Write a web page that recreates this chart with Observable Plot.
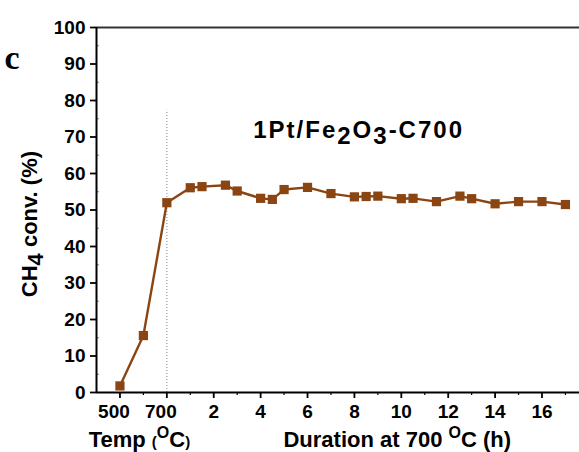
<!DOCTYPE html>
<html>
<head>
<meta charset="utf-8">
<script src="https://cdn.jsdelivr.net/npm/d3@7"></script>
<script src="https://cdn.jsdelivr.net/npm/@observablehq/plot@0.6"></script>
<style>
  html, body { margin: 0; padding: 0; background: #fff; }
  #chart svg { display: block; }
</style>
</head>
<body>
<div id="chart"></div>
<script>
// ---- data ----
const tempC = [500, 600, 700];
const tempConv = [1.8, 15.6, 52.0];
const hours = [1, 1.5, 2.5, 3, 4, 4.5, 5, 6, 7, 8, 8.5, 9, 10, 10.5, 11.5, 12.5, 13, 14, 15, 16, 17];
const hourConv = [56.1, 56.4, 56.8, 55.2, 53.2, 52.9, 55.6, 56.2, 54.5, 53.6, 53.7, 53.8, 53.1, 53.2, 52.3, 53.8, 53.1, 51.7, 52.3, 52.3, 51.5];
const tempTicks = [500, 700];
const hourTicks = [2, 4, 6, 8, 10, 12, 14, 16];
const yTicks = [0, 10, 20, 30, 40, 50, 60, 70, 80, 90, 100];
const yMinor = [5, 15, 25, 35, 45, 55, 65, 75, 85, 95];
const sampleName = "1Pt/Fe2O3-C700";
const dottedTop = 77.3;

// combined position: temperature segment mapped before 0 h (700 °C == 0 h)
const tPos = t => (t - 700) / 100;
const data = [
  ...tempC.map((t, i) => ({pos: tPos(t), conv: tempConv[i]})),
  ...hours.map((h, i) => ({pos: h, conv: hourConv[i]}))
];
const xMajor = [...tempTicks.map(tPos), ...hourTicks];
const xMinor = [-1, 1, 3, 5, 7, 9, 11, 13, 15, 17];
const color = "#8B4513";
const font = "'Liberation Sans', Arial, sans-serif";

const chart = Plot.plot({
  width: 579,
  height: 452,
  marginLeft: 96,
  marginRight: 0,
  marginTop: 27,
  marginBottom: 60,
  x: {domain: [-3, 17.6]},
  y: {domain: [0, 100]},
  style: {fontFamily: font, fontWeight: "bold", fontSize: "19px", color: "#000", background: "#fff"},
  marks: [
    // frame lines
    Plot.ruleY([100], {stroke: "#333", strokeWidth: 2}),
    // y axis
    Plot.axisY(yTicks, {tickSize: 6, tickPadding: 5, strokeWidth: 1.8, fontSize: 19, fontWeight: "bold", label: null}),
    Plot.axisY(yMinor, {tickSize: -3, text: null, strokeWidth: 1, stroke: "#888", label: null}),
    // x axis ticks
    Plot.axisX(xMajor, {tickSize: 6, text: null, strokeWidth: 1.8, label: null}),
    Plot.axisX(xMinor, {tickSize: 3, text: null, strokeWidth: 1.2, label: null}),
    // x tick labels
    Plot.axisX(tempTicks.map(tPos), {tickSize: 0, tickPadding: 12, dx: -6, tickFormat: d => String(d * 100 + 700), fontSize: 19, fontWeight: "bold", label: null}),
    Plot.axisX(hourTicks, {tickSize: 0, tickPadding: 12, tickFormat: d => String(d), fontSize: 19, fontWeight: "bold", label: null}),
    // dotted guide at 700 °C / 0 h
    Plot.ruleX([0], {y1: 0, y2: dottedTop, stroke: "#999", strokeWidth: 1.2, strokeDasharray: "1,2"}),
    Plot.ruleX([-3], {stroke: "#000", strokeWidth: 2}),
    Plot.ruleY([0], {stroke: "#000", strokeWidth: 2}),
    // data
    Plot.line(data, {x: "pos", y: "conv", stroke: color, strokeWidth: 2.4}),
    Plot.dot(data, {x: "pos", y: "conv", symbol: "square", fill: color, stroke: "none", r: 5.2})
  ]
});

document.getElementById("chart").appendChild(chart);

// ---- rich-text labels ----
const svg = d3.select(chart);
const sx = chart.scale("x"), sy = chart.scale("y");

// panel letter
svg.append("text")
  .attr("x", 12).attr("y", 69)
  .attr("font-family", "'Liberation Serif', 'Times New Roman', serif")
  .attr("font-weight", "bold").attr("font-size", 34)
  .text("c");

// sample name with subscripts
const t = svg.append("text")
  .attr("x", sx.apply(8.2)).attr("y", sy.apply(69.5))
  .attr("text-anchor", "middle")
  .attr("font-family", font).attr("font-weight", "bold").attr("font-size", 24)
  .attr("letter-spacing", 2);
t.append("tspan").text("1Pt/Fe");
t.append("tspan").attr("dy", 6).text("2");
t.append("tspan").attr("dy", -6).text("O");
t.append("tspan").attr("dy", 6).text("3");
t.append("tspan").attr("dy", -6).text("-C700");

// x label: Temp (°C)
const xl1 = svg.append("text")
  .attr("x", sx.apply(-1.15)).attr("y", 447)
  .attr("text-anchor", "middle")
  .attr("font-family", font).attr("font-weight", "bold").attr("font-size", 22);
xl1.append("tspan").text("Temp ");
xl1.append("tspan").attr("font-size", 15).text("(");
xl1.append("tspan").attr("font-size", 16).attr("dy", -9).text("O");
xl1.append("tspan").attr("dy", 9).text("C");
xl1.append("tspan").attr("font-size", 15).text(")");

// x label: Duration at 700 °C (h)
const xl2 = svg.append("text")
  .attr("x", sx.apply(9.85)).attr("y", 447)
  .attr("text-anchor", "middle")
  .attr("font-family", font).attr("font-weight", "bold").attr("font-size", 22);
xl2.append("tspan").text("Duration at 700 ");
xl2.append("tspan").attr("font-size", 16).attr("dy", -9).text("O");
xl2.append("tspan").attr("dy", 9).text("C (h)");

// y label
const yl = svg.append("text")
  .attr("transform", `translate(37,${sy.apply(46)}) rotate(-90)`)
  .attr("text-anchor", "middle")
  .attr("font-family", font).attr("font-weight", "bold").attr("font-size", 22);
yl.append("tspan").text("CH");
yl.append("tspan").attr("dy", 6).text("4");
yl.append("tspan").attr("dy", -6).text(" conv. (%)");
</script>
</body>
</html>
